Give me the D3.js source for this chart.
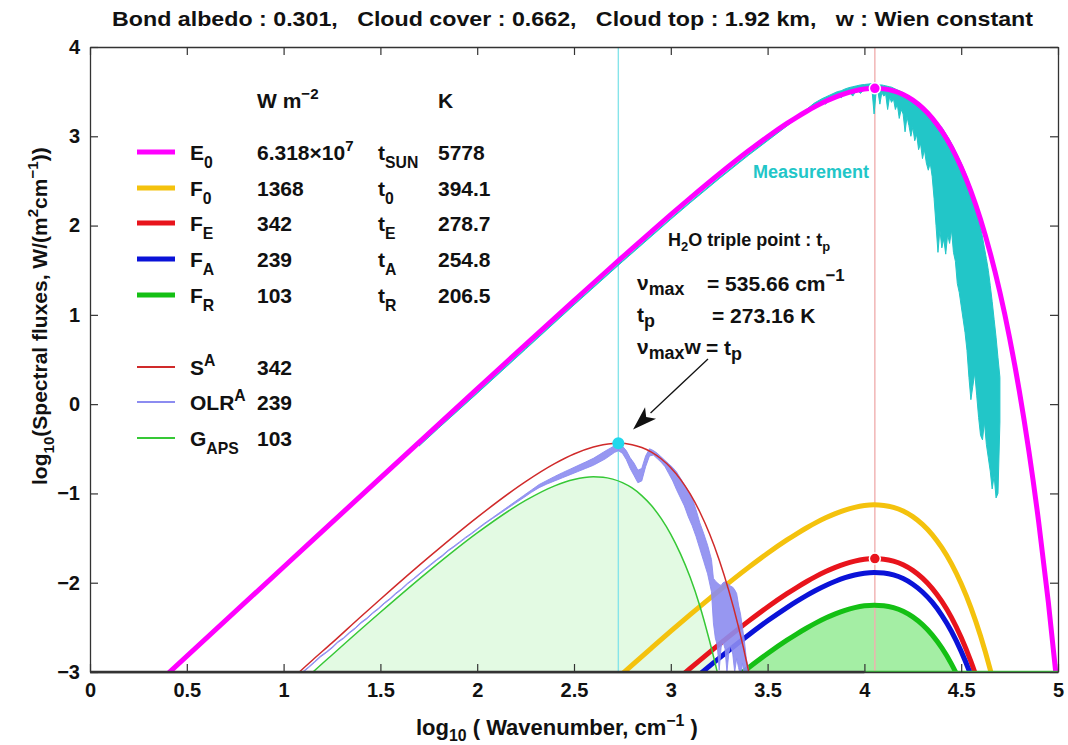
<!DOCTYPE html>
<html>
<head>
<meta charset="utf-8">
<script src="https://cdn.jsdelivr.net/npm/d3@7"></script>
<style>
  body { margin: 0; background: #fff; }
  svg { display: block; font-family: "Liberation Sans", Arial, Helvetica, sans-serif; font-weight: bold; }
  text { white-space: pre; }
</style>
</head>
<body>
<svg id="chart" width="1068" height="745"></svg>
<script>
// ---------- axes ----------
const xTicks = [0, 0.5, 1, 1.5, 2, 2.5, 3, 3.5, 4, 4.5, 5];
const xTickLabels = ["0", "0.5", "1", "1.5", "2", "2.5", "3", "3.5", "4", "4.5", "5"];
const yTicks = [-3, -2, -1, 0, 1, 2, 3, 4];
const yTickLabels = ["\u22123", "\u22122", "\u22121", "0", "1", "2", "3", "4"];

// ---------- solar curves (log10 wavenumber vs log10 flux) ----------
const e0X = [0.40, 1.00, 1.50, 2.00, 2.25, 2.50, 2.70, 2.75, 2.80, 2.90, 3.00, 3.10, 3.25, 3.40, 3.50, 3.60, 3.65, 3.70, 3.75, 3.80, 3.85, 3.90, 3.95, 4.00, 4.05, 4.10, 4.15, 4.20, 4.25, 4.30, 4.35, 4.40, 4.45, 4.50, 4.55, 4.60, 4.65, 4.70, 4.75, 4.80, 4.85, 4.90, 4.95, 5.00];
const e0Y = [-3.023, -1.824, -0.825, 0.171, 0.667, 1.160, 1.550, 1.646, 1.742, 1.933, 2.122, 2.307, 2.577, 2.834, 2.995, 3.144, 3.213, 3.278, 3.338, 3.392, 3.439, 3.479, 3.509, 3.529, 3.537, 3.531, 3.509, 3.468, 3.405, 3.318, 3.204, 3.057, 2.876, 2.653, 2.386, 2.068, 1.692, 1.253, 0.742, 0.150, -0.533, -1.317, -2.216, -3.242];

const solarX = [2.70, 2.75, 2.80, 2.90, 3.00, 3.10, 3.25, 3.40, 3.50, 3.60, 3.65, 3.70, 3.75, 3.80, 3.85, 3.90, 3.95, 4.00, 4.05, 4.10, 4.15, 4.20, 4.25, 4.30, 4.35, 4.40, 4.45, 4.50, 4.55, 4.60, 4.65, 4.70];
const f0Y = [-3.115, -3.019, -2.923, -2.732, -2.543, -2.358, -2.088, -1.831, -1.670, -1.521, -1.452, -1.387, -1.327, -1.273, -1.226, -1.186, -1.156, -1.136, -1.128, -1.134, -1.156, -1.197, -1.260, -1.347, -1.461, -1.608, -1.789, -2.012, -2.279, -2.597, -2.973, -3.412];
const feY = [-3.717, -3.621, -3.525, -3.334, -3.145, -2.960, -2.690, -2.433, -2.272, -2.123, -2.054, -1.989, -1.929, -1.875, -1.828, -1.788, -1.758, -1.738, -1.730, -1.736, -1.758, -1.799, -1.862, -1.949, -2.063, -2.210, -2.391, -2.614, -2.881, -3.199, -3.575, -4.014];
const faY = [-3.872, -3.776, -3.680, -3.489, -3.300, -3.115, -2.845, -2.588, -2.427, -2.278, -2.209, -2.144, -2.084, -2.030, -1.983, -1.943, -1.913, -1.893, -1.885, -1.891, -1.913, -1.954, -2.017, -2.104, -2.218, -2.365, -2.546, -2.769, -3.036, -3.354, -3.730, -4.169];
const frY = [-4.238, -4.142, -4.046, -3.855, -3.666, -3.481, -3.211, -2.954, -2.793, -2.644, -2.575, -2.510, -2.450, -2.396, -2.349, -2.309, -2.279, -2.259, -2.251, -2.257, -2.279, -2.320, -2.383, -2.470, -2.584, -2.731, -2.912, -3.135, -3.402, -3.720, -4.096, -4.535];

// ---------- terrestrial curves ----------
const saX = [1.06, 1.08, 1.15, 1.25, 1.40, 1.50, 1.75, 2.00, 2.25, 2.40, 2.50, 2.60, 2.65, 2.70, 2.73, 2.80, 2.85, 2.90, 2.95, 3.00, 3.05, 3.10, 3.15, 3.20, 3.25, 3.30, 3.35, 3.40, 3.42];
const saY = [-3.042, -3.002, -2.865, -2.674, -2.378, -2.185, -1.714, -1.268, -0.868, -0.667, -0.559, -0.481, -0.455, -0.441, -0.439, -0.454, -0.486, -0.537, -0.612, -0.712, -0.842, -1.006, -1.208, -1.452, -1.745, -2.091, -2.498, -2.973, -3.184];

const gX = [1.12, 1.15, 1.25, 1.50, 1.75, 2.00, 2.25, 2.40, 2.50, 2.60, 2.65, 2.70, 2.75, 2.80, 2.85, 2.90, 2.95, 3.00, 3.05, 3.10, 3.15, 3.20, 3.25];
const gY = [-3.064, -3.004, -2.809, -2.331, -1.870, -1.442, -1.078, -0.915, -0.844, -0.814, -0.818, -0.840, -0.879, -0.939, -1.024, -1.136, -1.280, -1.458, -1.677, -1.940, -2.260, -2.650, -3.090];

// outgoing longwave measurement: upper and lower envelope of the noisy record
const olrX  = [1.10, 1.13, 1.16, 1.19, 1.22, 1.25, 1.28, 1.31, 1.34, 1.37, 1.40, 1.43, 1.46, 1.49, 1.52, 1.55, 1.58, 1.61, 1.64, 1.67, 1.70, 1.73, 1.76, 1.79, 1.82, 1.85, 1.88, 1.91, 1.94, 1.97, 2.00, 2.04, 2.08, 2.12, 2.16, 2.20, 2.24, 2.28, 2.32, 2.36, 2.40, 2.44, 2.48, 2.52, 2.56, 2.60, 2.63, 2.66, 2.69, 2.71, 2.73, 2.75, 2.77, 2.79, 2.81, 2.83, 2.85, 2.87, 2.89, 2.91, 2.93, 2.95, 2.97, 2.99, 3.01, 3.03, 3.05, 3.07, 3.09, 3.11, 3.13, 3.15, 3.17, 3.19, 3.21, 3.22, 3.23, 3.24, 3.25, 3.26, 3.27, 3.28, 3.29, 3.30, 3.31, 3.32, 3.33, 3.34, 3.35, 3.36, 3.37, 3.38, 3.39, 3.40];
const olrHi = [-2.995, -2.940, -2.882, -2.822, -2.775, -2.722, -2.660, -2.615, -2.555, -2.505, -2.442, -2.395, -2.335, -2.285, -2.225, -2.175, -2.115, -2.065, -2.005, -1.955, -1.900, -1.845, -1.792, -1.740, -1.692, -1.635, -1.590, -1.540, -1.490, -1.445, -1.395, -1.330, -1.270, -1.208, -1.147, -1.085, -1.023, -0.962, -0.900, -0.855, -0.810, -0.768, -0.728, -0.688, -0.648, -0.607, -0.567, -0.527, -0.490, -0.465, -0.460, -0.470, -0.520, -0.600, -0.660, -0.740, -0.720, -0.580, -0.500, -0.520, -0.550, -0.590, -0.630, -0.670, -0.710, -0.760, -0.830, -0.900, -0.970, -1.050, -1.180, -1.330, -1.450, -1.580, -1.740, -1.950, -1.980, -2.000, -2.020, -2.030, -2.000, -1.990, -2.010, -2.020, -2.040, -2.050, -2.080, -2.120, -2.250, -2.350, -2.500, -2.650, -2.850, -2.950];
const olrLo = [-3.005, -2.950, -2.893, -2.833, -2.785, -2.733, -2.670, -2.625, -2.565, -2.515, -2.453, -2.405, -2.345, -2.295, -2.235, -2.185, -2.125, -2.075, -2.015, -1.965, -1.910, -1.855, -1.803, -1.750, -1.703, -1.645, -1.600, -1.550, -1.500, -1.455, -1.405, -1.340, -1.280, -1.222, -1.163, -1.105, -1.047, -0.988, -0.935, -0.895, -0.860, -0.825, -0.790, -0.755, -0.720, -0.685, -0.650, -0.615, -0.570, -0.540, -0.522, -0.550, -0.620, -0.720, -0.800, -0.880, -0.860, -0.700, -0.580, -0.570, -0.610, -0.650, -0.700, -0.780, -0.860, -0.960, -1.050, -1.140, -1.260, -1.360, -1.480, -1.620, -1.760, -1.900, -2.100, -2.450, -2.620, -2.700, -2.980, -2.720, -2.660, -2.740, -3.000, -2.780, -2.700, -2.800, -3.000, -2.850, -2.950, -3.050, -2.900, -3.050, -3.050, -3.050];

// solar spectrum measurement scaled to the photosphere
const measX  = [1.70, 1.80, 2.00, 2.25, 2.50, 2.75, 3.00, 3.10, 3.25, 3.40, 3.50, 3.60, 3.65, 3.70, 3.74, 3.78, 3.80, 3.82, 3.86, 3.88, 3.90, 3.92, 3.94, 3.96, 3.98, 4.00, 4.02, 4.04,
  4.05, 4.06, 4.07, 4.08, 4.09, 4.10, 4.11, 4.12, 4.13, 4.14, 4.15, 4.16, 4.17, 4.18, 4.19, 4.20, 4.21, 4.22, 4.23, 4.24, 4.25, 4.26, 4.27, 4.28, 4.29, 4.30, 4.31, 4.32, 4.33, 4.34, 4.35, 4.36, 4.37, 4.38, 4.39, 4.40, 4.41, 4.42, 4.43, 4.44, 4.45, 4.46, 4.47, 4.48, 4.49, 4.50, 4.51, 4.52, 4.53, 4.54, 4.55, 4.56, 4.57, 4.58, 4.59, 4.60, 4.61, 4.62, 4.63, 4.64, 4.65, 4.66, 4.67, 4.68, 4.69, 4.70];
const measHi = [-0.460, -0.260, 0.130, 0.625, 1.120, 1.605, 2.080, 2.265, 2.535, 2.795, 2.960, 3.125, 3.215, 3.300, 3.370, 3.420, 3.440, 3.460, 3.500, 3.510, 3.530, 3.545, 3.555, 3.565, 3.575, 3.580, 3.585, 3.590,
  3.585, 3.580, 3.580, 3.575, 3.575, 3.570, 3.565, 3.560, 3.555, 3.550, 3.540, 3.530, 3.520, 3.510, 3.500, 3.490, 3.475, 3.465, 3.450, 3.440, 3.420, 3.405, 3.390, 3.370, 3.355, 3.340, 3.320, 3.300, 3.275, 3.250, 3.225, 3.200, 3.170, 3.140, 3.120, 3.100, 3.065, 3.030, 2.995, 2.960, 2.920, 2.880, 2.835, 2.790, 2.745, 2.700, 2.650, 2.600, 2.545, 2.490, 2.430, 2.360, 2.270, 2.170, 2.080, 1.980, 1.870, 1.750, 1.630, 1.500, 1.330, 1.150, 0.950, 0.750, 0.520, 0.300];
const measLo = [-0.470, -0.270, 0.120, 0.615, 1.110, 1.595, 2.070, 2.255, 2.525, 2.785, 2.950, 3.115, 3.200, 3.280, 3.330, 3.380, 3.360, 3.420, 3.460, 3.430, 3.490, 3.500, 3.450, 3.520, 3.480, 3.530, 3.520, 3.500,
  3.250, 3.480, 3.500, 3.360, 3.490, 3.450, 3.470, 3.300, 3.440, 3.380, 3.420, 3.300, 3.360, 3.200, 3.300, 3.250, 3.050, 3.220, 3.120, 3.000, 3.100, 2.950, 3.020, 2.850, 2.920, 2.750, 2.850, 2.700, 2.620, 2.700, 2.550, 2.300, 2.000, 1.700, 1.950, 1.750, 1.850, 1.680, 1.900, 1.800, 1.950, 1.700, 1.600, 1.350, 1.250, 1.100, 0.950, 0.800, 0.600, 0.300, 0.050, 0.200, 0.350, 0.100, -0.150, -0.350, -0.400, -0.200, -0.450, -0.600, -0.750, -0.950, -0.800, -1.050, -1.000, -0.200];

// peak markers: H2O triple point peak and solar peak
const peakCyan = [2.729, -0.439];
const peakSun = [4.054, 3.537];
const peakFE = [4.054, -1.730];
const guideX = [2.729, 4.054];

// legend table
const legendNames   = ["E", "F", "F", "F", "F"];
const legendSubs    = ["0", "0", "E", "A", "R"];
const legendFlux    = ["6.318\u00d710", "1368", "342", "239", "103"];
const legendFluxSup = ["7", "", "", "", ""];
const legendTSubs   = ["SUN", "0", "E", "A", "R"];
const legendTemps   = ["5778", "394.1", "278.7", "254.8", "206.5"];
const legendColors  = ["#ff00ff", "#f4c20d", "#e8141c", "#0a12d8", "#14c014"];
const legend2Values = ["342", "239", "103"];
const legend2Colors = ["#d02a2a", "#8c8cf0", "#36c836"];

// ---------- setup ----------
const svg = d3.select("#chart");
const x = d3.scaleLinear().domain([0, 5]).range([90, 1058]);
const y = d3.scaleLinear().domain([-3, 4]).range([672, 47]);

svg.append("defs").append("clipPath").attr("id", "plot")
  .append("rect").attr("x", 90).attr("y", 47).attr("width", 968).attr("height", 625);

const zip = (xs, ys) => xs.map((v, i) => [v, ys[i]]);
const line = d3.line().x(d => x(d[0])).y(d => y(d[1])).curve(d3.curveMonotoneX);
const areaDown = d3.area().x(d => x(d[0])).y0(y(-3)).y1(d => y(d[1])).curve(d3.curveMonotoneX);
const band = d3.area().x(d => x(d.x)).y0(d => y(d.lo)).y1(d => y(d.hi));

const plot = svg.append("g").attr("clip-path", "url(#plot)");

// fills
plot.append("path").datum(zip(gX, gY)).attr("d", areaDown).attr("fill", "#e3fae3");
plot.append("path").datum(zip(solarX, frY)).attr("d", areaDown).attr("fill", "#a4eea4");

// guide lines
plot.append("line").attr("x1", x(guideX[0])).attr("x2", x(guideX[0])).attr("y1", y(4)).attr("y2", y(-3))
  .attr("stroke", "#86e4ea").attr("stroke-width", 1.4);
plot.append("line").attr("x1", x(guideX[1])).attr("x2", x(guideX[1])).attr("y1", y(4)).attr("y2", y(-3))
  .attr("stroke", "#f0b0b0").attr("stroke-width", 1.4);

// diluted solar curves
[[f0Y, legendColors[1]], [feY, legendColors[2]], [faY, legendColors[3]], [frY, legendColors[4]]].forEach(([ys, c]) => {
  plot.append("path").datum(zip(solarX, ys)).attr("d", line)
    .attr("fill", "none").attr("stroke", c).attr("stroke-width", 5);
});

// solar measurement band and photosphere curve
const meas = measX.map((v, i) => ({ x: v, hi: measHi[i], lo: measLo[i] }));
plot.append("path").datum(meas).attr("d", band)
  .attr("fill", "#22c6c8").attr("stroke", "#22c6c8").attr("stroke-width", 1).attr("stroke-linejoin", "round");
plot.append("path").datum(zip(e0X, e0Y)).attr("d", line)
  .attr("fill", "none").attr("stroke", "#ff00ff").attr("stroke-width", 5);

// terrestrial curves
const olr = olrX.map((v, i) => ({ x: v, hi: olrHi[i], lo: olrLo[i] }));
plot.append("path").datum(olr).attr("d", band)
  .attr("fill", "#8c8cf0").attr("fill-opacity", 0.9).attr("stroke", "#8c8cf0").attr("stroke-width", 0.9).attr("stroke-linejoin", "round");
plot.append("path").datum(zip(gX, gY)).attr("d", line)
  .attr("fill", "none").attr("stroke", legend2Colors[2]).attr("stroke-width", 1.5);
plot.append("path").datum(zip(saX, saY)).attr("d", line)
  .attr("fill", "none").attr("stroke", legend2Colors[0]).attr("stroke-width", 1.5);

// clipped values resting on the floor
plot.append("line").attr("x1", x(4.0)).attr("x2", x(5)).attr("y1", y(-3)).attr("y2", y(-3))
  .attr("stroke", "#3cbf3c").attr("stroke-width", 2.5);

// peak markers
plot.append("circle").attr("cx", x(peakSun[0])).attr("cy", y(peakSun[1])).attr("r", 5.5)
  .attr("fill", "#ff00ff").attr("stroke", "#fff").attr("stroke-width", 1.5);
plot.append("circle").attr("cx", x(peakFE[0])).attr("cy", y(peakFE[1])).attr("r", 5.5)
  .attr("fill", "#e8141c").attr("stroke", "#fff").attr("stroke-width", 1.5);
plot.append("circle").attr("cx", x(peakCyan[0])).attr("cy", y(peakCyan[1])).attr("r", 6)
  .attr("fill", "#22d8ec");

// ---------- axes ----------
const axisStyle = g => {
  g.select(".domain").attr("stroke", "#333").attr("stroke-width", 1.3);
  g.selectAll(".tick line").attr("stroke", "#333").attr("stroke-width", 1.2);
  g.selectAll("text").attr("font-family", "Liberation Sans, Arial, sans-serif")
    .attr("font-weight", "bold").attr("font-size", 20).attr("fill", "#111");
};
svg.append("g").attr("transform", "translate(0,672)")
  .call(d3.axisBottom(x).tickValues(xTicks).tickFormat((d, i) => xTickLabels[i]).tickSizeInner(-8).tickSizeOuter(0).tickPadding(11))
  .call(axisStyle);
svg.append("g").attr("transform", "translate(0,47)")
  .call(d3.axisTop(x).tickValues(xTicks).tickFormat("").tickSizeInner(-8).tickSizeOuter(0))
  .call(axisStyle);
svg.append("g").attr("transform", "translate(90,0)")
  .call(d3.axisLeft(y).tickValues(yTicks).tickFormat((d, i) => yTickLabels[i]).tickSizeInner(-8).tickSizeOuter(0).tickPadding(10))
  .call(axisStyle);
svg.append("g").attr("transform", "translate(1058,0)")
  .call(d3.axisRight(y).tickValues(yTicks).tickFormat("").tickSizeInner(-8).tickSizeOuter(0))
  .call(axisStyle);
svg.append("line").attr("x1", 90).attr("x2", x(4.0)).attr("y1", 672).attr("y2", 672)
  .attr("stroke", "#333").attr("stroke-width", 2.5);

// ---------- text helpers ----------
function rich(g, px, py, parts, size, fill) {
  const t = g.append("text").attr("x", px).attr("y", py).attr("font-size", size).attr("fill", fill || "#111");
  let shift = 0;
  parts.forEach(p => {
    const kind = p[1] || "n";
    const target = kind === "sub" ? size * (p[2] ?? 0.32) : kind === "sup" ? -size * (p[2] ?? 0.42) : 0;
    const ts = t.append("tspan").text(p[0]).attr("dy", target - shift);
    if (kind !== "n") ts.attr("font-size", size * (p[3] ?? 0.72));
    shift = target;
  });
  return t;
}

// title
svg.append("text").attr("x", 112).attr("y", 26)
  .attr("font-size", 21).attr("fill", "#111")
  .attr("textLength", 921).attr("lengthAdjust", "spacingAndGlyphs")
  .text("Bond albedo : 0.301,   Cloud cover : 0.662,   Cloud top : 1.92 km,   w : Wien constant");

// axis titles
rich(svg, 0, 0, [["log"], ["10", "sub", 0.26], [" ( Wavenumber, cm"], ["\u22121", "sup"], [" )"]], 22)
  .attr("transform", "translate(416,735)");
rich(svg, 0, 0, [["log"], ["10", "sub"], ["(Spectral fluxes, W/(m"], ["2", "sup"], ["cm"], ["\u22121", "sup"], ["))"]], 21)
  .attr("transform", "translate(47,485) rotate(-90)");

// legend table
const leg = svg.append("g");
rich(leg, 257, 108, [["W m"], ["\u22122", "sup", 0.45]], 21);
rich(leg, 438, 108, [["K"]], 21);
const rowY = [152, 188, 223, 259, 295];
legendNames.forEach((nm, i) => {
  const cy = rowY[i];
  leg.append("line").attr("x1", 137).attr("x2", 175).attr("y1", cy).attr("y2", cy)
    .attr("stroke", legendColors[i]).attr("stroke-width", 5);
  rich(leg, 190, cy + 8, [[nm], [legendSubs[i], "sub", 0.36, 0.75]], 21);
  const fluxParts = [[legendFlux[i]]];
  if (legendFluxSup[i]) fluxParts.push([legendFluxSup[i], "sup", 0.45]);
  rich(leg, 257, cy + 8, fluxParts, 21);
  rich(leg, 378, cy + 8, [["t"], [legendTSubs[i], "sub", 0.36, 0.75]], 21);
  rich(leg, 438, cy + 8, [[legendTemps[i]]], 21);
});
const row2Y = [367, 402, 438];
const legend2Labels = [[["S"], ["A", "sup", 0.42, 0.75]], [["OLR"], ["A", "sup", 0.42, 0.75]], [["G"], ["APS", "sub", 0.36, 0.75]]];
legend2Labels.forEach((parts, i) => {
  const cy = row2Y[i];
  leg.append("line").attr("x1", 137).attr("x2", 175).attr("y1", cy).attr("y2", cy)
    .attr("stroke", legend2Colors[i]).attr("stroke-width", 2);
  rich(leg, 190, cy + 8, parts, 21);
  rich(leg, 257, cy + 8, [[legend2Values[i]]], 21);
});

// annotations
rich(svg, 753, 178, [["Measurement"]], 18, "#22c6c8");
rich(svg, 668, 246, [["H"], ["2", "sub", 0.3], ["O triple point : t"], ["p", "sub", 0.3]], 18);
rich(svg, 637, 290, [["\u03bd"], ["max", "sub", 0.22, 0.85]], 21);
rich(svg, 707, 291, [["= 535.66 cm"], ["\u22121", "sup", 0.5, 0.8]], 21);
rich(svg, 637, 322, [["t"], ["p", "sub", 0.22, 0.85]], 21);
rich(svg, 712, 323, [["= 273.16 K"]], 21);
rich(svg, 637, 354, [["\u03bd"], ["max", "sub", 0.22, 0.85], ["w"]], 21);
rich(svg, 706, 355, [["= t"], ["p", "sub", 0.22, 0.85]], 21);

// arrow toward the triple-point peak
const arrowFrom = [3.192, 0.506];
const arrowTo = [2.805, -0.283];
const ax0 = x(arrowFrom[0]), ay0 = y(arrowFrom[1]), ax1 = x(arrowTo[0]), ay1 = y(arrowTo[1]);
const ang = Math.atan2(ay1 - ay0, ax1 - ax0);
const headL = 24, headW = 8;
const bx = ax1 - headL * Math.cos(ang), by = ay1 - headL * Math.sin(ang);
svg.append("line").attr("x1", ax0).attr("y1", ay0).attr("x2", bx).attr("y2", by)
  .attr("stroke", "#111").attr("stroke-width", 1.3);
svg.append("path")
  .attr("d", `M${ax1},${ay1} L${bx + headW * Math.sin(ang)},${by - headW * Math.cos(ang)} L${bx + 6 * Math.cos(ang)},${by + 6 * Math.sin(ang)} L${bx - headW * Math.sin(ang)},${by + headW * Math.cos(ang)} Z`)
  .attr("fill", "#111");
</script>
</body>
</html>
